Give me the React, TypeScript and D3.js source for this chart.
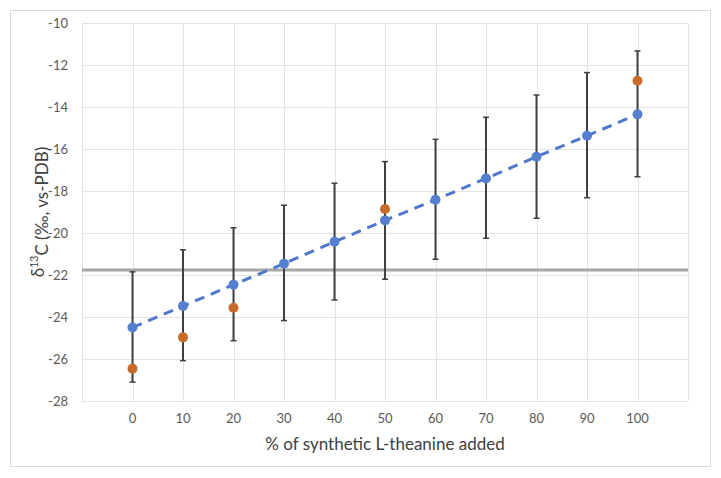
import React from "react";
import * as d3 from "d3";

const categories = [0, 10, 20, 30, 40, 50, 60, 70, 80, 90, 100];
const blueValues = [-24.5, -23.48, -22.46, -21.46, -20.42, -19.4, -18.42, -17.4, -16.37, -15.37, -14.35];
const errHigh = [-21.85, -20.8, -19.75, -18.68, -17.63, -16.6, -15.54, -14.49, -13.43, -12.36, -11.33];
const errLow = [-27.1, -26.08, -25.13, -24.17, -23.19, -22.2, -21.25, -20.25, -19.3, -18.32, -17.32];
const orangeX = [0, 10, 20, 50, 100];
const orangeValues = [-26.46, -24.97, -23.56, -18.86, -12.75];
const referenceLine = -21.76;
const yTicks = [-10, -12, -14, -16, -18, -20, -22, -24, -26, -28];
const xGridTicks = [-10, 0, 10, 20, 30, 40, 50, 60, 70, 80, 90, 100, 110];
const xLabelTicks = [0, 10, 20, 30, 40, 50, 60, 70, 80, 90, 100];

const W = 721;
const H = 478;
const plot = { left: 82, right: 688, top: 23, bottom: 401 };
const FONT = "Lato, 'Liberation Sans', sans-serif";

export default function App() {
  const x = d3.scaleLinear().domain([-10, 110]).range([plot.left, plot.right]);
  const y = d3.scaleLinear().domain([-28, -10]).range([plot.bottom, plot.top]);
  const line = d3
    .line<number>()
    .x((_, i) => x(categories[i]))
    .y((d) => y(d));

  return (
    <svg
      width={W}
      height={H}
      style={{ position: "absolute", left: 0, top: 0, background: "#fff" }}
      fontFamily={FONT}
    >
      <rect x={0} y={0} width={W} height={H} fill="#fff" />
      <rect x={10.5} y={10.5} width={700} height={456} fill="#fff" stroke="#d9d9d9" strokeWidth={1} />
      {/* gridlines */}
      {yTicks.map((t) => (
        <line key={"gy" + t} x1={plot.left} x2={plot.right} y1={Math.round(y(t)) + 0.5} y2={Math.round(y(t)) + 0.5} stroke="#e3e3e3" strokeWidth={1} />
      ))}
      {xGridTicks.map((t) => (
        <line key={"gx" + t} x1={Math.round(x(t)) + 0.5} x2={Math.round(x(t)) + 0.5} y1={plot.top} y2={plot.bottom} stroke="#e3e3e3" strokeWidth={1} />
      ))}
      {/* y tick labels */}
      {yTicks.map((t) => (
        <text key={"ty" + t} x={68} y={y(t)} dy="0.35em" textAnchor="end" fontSize={13} fill="#595959">
          {t}
        </text>
      ))}
      {/* x tick labels */}
      {xLabelTicks.map((t) => (
        <text key={"tx" + t} x={x(t)} y={418} dy="0.35em" textAnchor="middle" fontSize={13} fill="#595959">
          {t}
        </text>
      ))}
      {/* reference line */}
      <line x1={plot.left} x2={plot.right} y1={y(referenceLine)} y2={y(referenceLine)} stroke="#a6a6a6" strokeWidth={3} />
      {/* error bars */}
      {categories.map((c, i) => (
        <g key={"e" + c} stroke="#404040" strokeWidth={2}>
          <line x1={x(c)} x2={x(c)} y1={y(errHigh[i])} y2={y(errLow[i])} />
          <line x1={x(c) - 3} x2={x(c) + 3} y1={y(errHigh[i])} y2={y(errHigh[i])} strokeWidth={1.5} />
          <line x1={x(c) - 3} x2={x(c) + 3} y1={y(errLow[i])} y2={y(errLow[i])} strokeWidth={1.5} />
        </g>
      ))}
      {/* dashed trend line */}
      <path d={line(blueValues) || ""} fill="none" stroke="#4f78cc" strokeWidth={3} strokeDasharray="10 7" />
      {/* blue markers */}
      {categories.map((c, i) => (
        <circle key={"b" + c} cx={x(c)} cy={y(blueValues[i])} r={5} fill="#5580d0" />
      ))}
      {/* orange markers */}
      {orangeX.map((c, i) => (
        <circle key={"o" + c} cx={x(c)} cy={y(orangeValues[i])} r={5} fill="#c86b29" />
      ))}
      {/* axis titles */}
      <text x={(plot.left + plot.right) / 2} y={444} dy="0.35em" textAnchor="middle" fontSize={17} fill="#404040">
        % of synthetic L-theanine added
      </text>
      <text transform={`translate(38, ${(plot.top + plot.bottom) / 2}) rotate(-90)`} textAnchor="middle" dy="0.35em" fontSize={17} fill="#404040">
        δ<tspan fontSize={10.5} dy="-0.6em">13</tspan>
        <tspan dy="0.6em">C (‰, vs-PDB)</tspan>
      </text>
    </svg>
  );
}
